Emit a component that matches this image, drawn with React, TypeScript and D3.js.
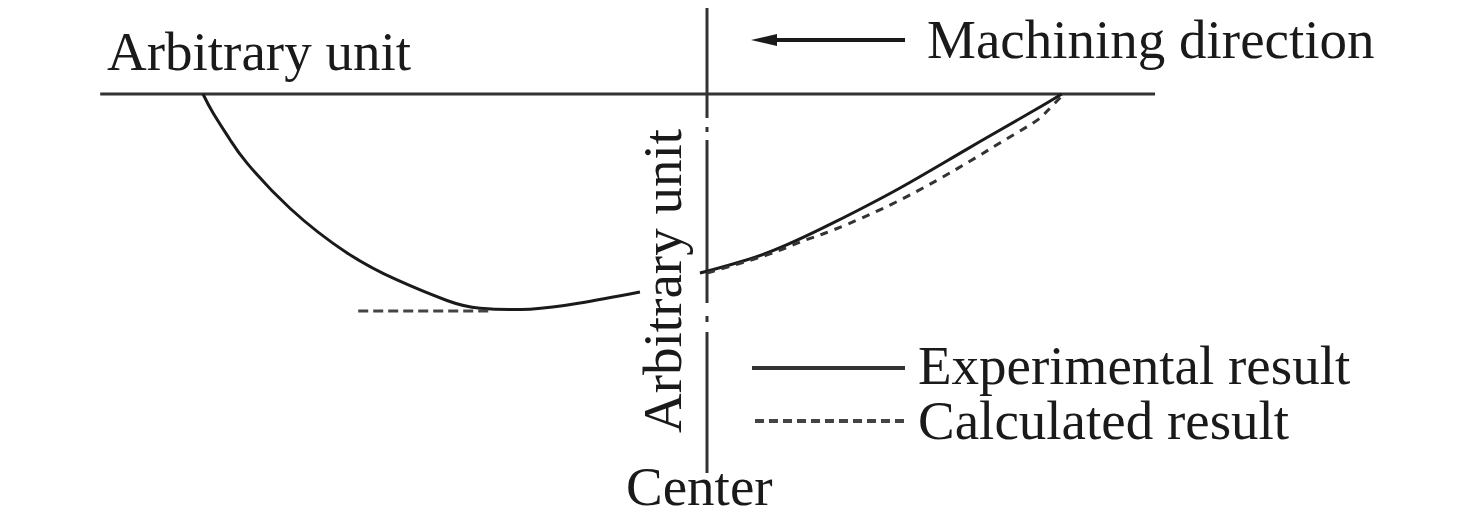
import React from "react";
import * as d3 from "d3";

// Arbitrary units: x = horizontal position (0 = center), y = depth (0 = surface)
const expLeftX = [-100, -98, -94.6, -91.3, -82.7, -71.4, -61.5, -51.6, -45, -35.1, -25.2, -13.3];
const expLeftY = [0, -8.8, -21.3, -31.9, -53, -73.6, -86.1, -95.6, -99.2, -99.6, -96.8, -91.7];
const calcLeftX = [-69.2, -43];
const calcLeftY = [-100.5, -100.5];
const expRightX = [-1.4, 11.9, 25, 38.3, 51.6, 64.7, 70.4];
const expRightY = [-82.9, -73.6, -59.7, -43.5, -25.5, -7.9, 0];
const calcRightX = [0, 11.9, 18.5, 25, 38.3, 51.6, 58.1, 64.7, 67.5, 70.4];
const calcRightY = [-82.9, -74.5, -68.5, -63, -49.1, -31.9, -22.7, -13.4, -7.9, -0.9];

const axisExtent = [-120.4, 88.9];
const depthExtent = [0, -100];

const titleTop = "Arbitrary unit";
const titleSide = "Arbitrary unit";
const directionLabel = "Machining direction";
const centerLabel = "Center";
const legendLabels = ["Experimental result", "Calculated result"];

const FONT = "'Liberation Serif', 'Times New Roman', serif";
const INK = "#1a1a1a";

export default function App() {
  const x = d3.scaleLinear().domain([-100, 0]).range([203, 707]);
  const y = d3.scaleLinear().domain(depthExtent).range([94, 310]);
  const mk = (curve: any) =>
    d3
      .line<[number, number]>()
      .x((d) => x(d[0]))
      .y((d) => y(d[1]))
      .curve(curve);
  const smooth = mk(d3.curveNatural);
  const zip = (a: number[], b: number[]) => a.map((v, i) => [v, b[i]] as [number, number]);

  const cx = x(0);
  return (
    <svg width={1476} height={528} style={{ position: "absolute", left: 0, top: 0, background: "#fff" }}>
      {/* surface line */}
      <line x1={x(axisExtent[0])} x2={x(axisExtent[1])} y1={y(0)} y2={y(0)} stroke="#333" strokeWidth={3} />
      {/* center dash-dot line */}
      <line
        x1={cx}
        x2={cx}
        y1={8}
        y2={473}
        stroke="#333"
        strokeWidth={3}
        strokeDasharray="110 9 5 8 163 13 6 10 141"
      />
      {/* curves */}
      <path d={smooth(zip(expLeftX, expLeftY)) || ""} fill="none" stroke={INK} strokeWidth={3} />
      <path d={smooth(zip(calcLeftX, calcLeftY)) || ""} fill="none" stroke="#444" strokeWidth={3} strokeDasharray="10 5" />
      <path d={smooth(zip(expRightX, expRightY)) || ""} fill="none" stroke={INK} strokeWidth={3} />
      <path d={smooth(zip(calcRightX, calcRightY)) || ""} fill="none" stroke="#333" strokeWidth={3} strokeDasharray="8 7" />

      {/* texts */}
      <text x={107} y={70} fontFamily={FONT} fontSize={55} fill={INK}>{titleTop}</text>
      <text
        transform={`translate(681,281) rotate(-90)`}
        textAnchor="middle"
        fontFamily={FONT}
        fontSize={55}
        fill={INK}
      >
        {titleSide}
      </text>
      <text x={626} y={505} fontFamily={FONT} fontSize={55} fill={INK}>{centerLabel}</text>

      {/* machining direction arrow */}
      <line x1={905} x2={770} y1={40} y2={40} stroke={INK} strokeWidth={4} />
      <path d="M751,40 L777,34 L777,46 Z" fill={INK} />
      <text x={927} y={58} fontFamily={FONT} fontSize={55} fill={INK}>{directionLabel}</text>

      {/* legend */}
      <line x1={752} x2={905} y1={368} y2={368} stroke="#333" strokeWidth={4} />
      <text x={918} y={384} fontFamily={FONT} fontSize={55} fill={INK}>{legendLabels[0]}</text>
      <line x1={755} x2={905} y1={421} y2={421} stroke="#444" strokeWidth={4} strokeDasharray="9 5" />
      <text x={918} y={439} fontFamily={FONT} fontSize={55} fill={INK}>{legendLabels[1]}</text>
    </svg>
  );
}
